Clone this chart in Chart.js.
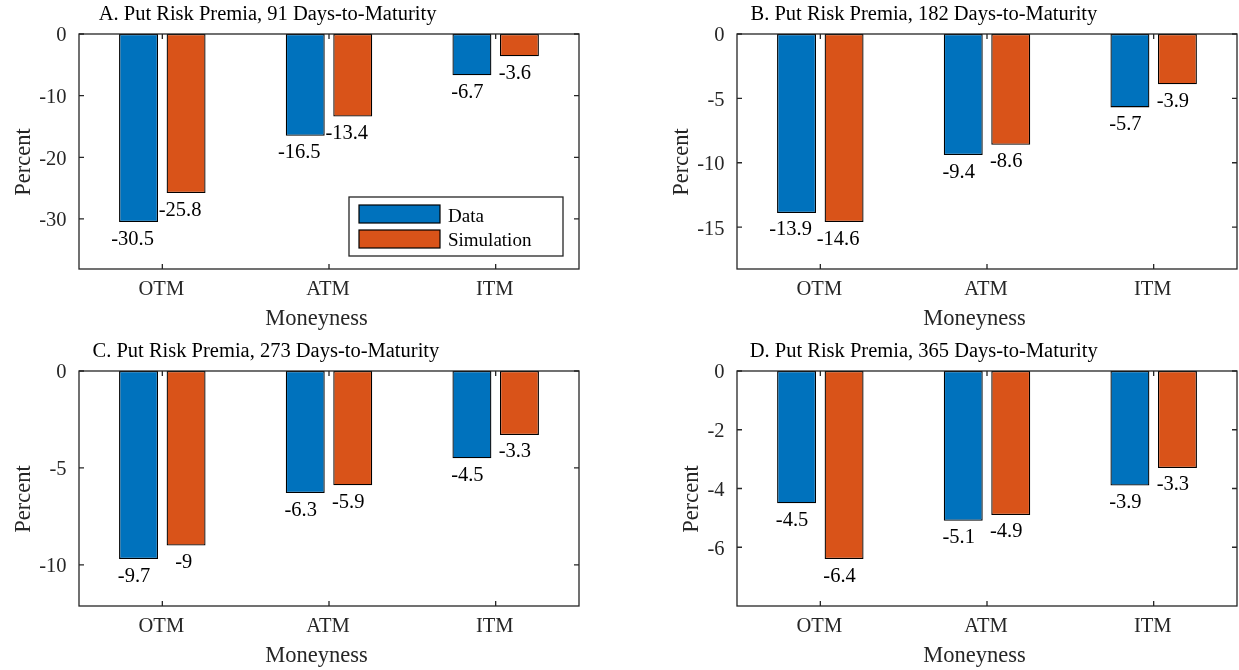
<!DOCTYPE html>
<html>
<head>
<meta charset="utf-8">
<script src="https://cdn.jsdelivr.net/npm/chart.js@4.4.1/dist/chart.umd.min.js"></script>
<style>
  body { margin: 0; background: #fff; }
  #fig { position: relative; width: 1239px; height: 670px; background: #fff; }
  #fig canvas { position: absolute; }
</style>
</head>
<body>
<div id="fig">
  <canvas id="panelA" width="620" height="335" style="left:0;top:0"></canvas>
  <canvas id="panelB" width="619" height="335" style="left:620px;top:0"></canvas>
  <canvas id="panelC" width="620" height="335" style="left:0;top:335px"></canvas>
  <canvas id="panelD" width="619" height="335" style="left:620px;top:335px"></canvas>
</div>
<script>
const categories = ['OTM', 'ATM', 'ITM'];
const seriesNames = ['Data', 'Simulation'];

// put risk premia, percent
const data91 = [-30.5, -16.5, -6.7];
const sim91 = [-25.8, -13.4, -3.6];
const data182 = [-13.9, -9.4, -5.7];
const sim182 = [-14.6, -8.6, -3.9];
const data273 = [-9.7, -6.3, -4.5];
const sim273 = [-9, -5.9, -3.3];
const data365 = [-4.5, -5.1, -3.9];
const sim365 = [-6.4, -4.9, -3.3];

const ticks91 = [0, -10, -20, -30];
const ticks182 = [0, -5, -10, -15];
const ticks273 = [0, -5, -10];
const ticks365 = [0, -2, -4, -6];

const yMins = [-38.125, -18.25, -12.125, -8];

const titles = [
    'A. Put Risk Premia, 91 Days-to-Maturity',
    'B. Put Risk Premia, 182 Days-to-Maturity',
    'C. Put Risk Premia, 273 Days-to-Maturity',
    'D. Put Risk Premia, 365 Days-to-Maturity'
];

const FONT = '"Liberation Serif", "Times New Roman", serif';
const AXIS = '#262626';
const BLUE = '#0072BD';
const ORANGE = '#D95319';

const matlabLook = {
    id: 'matlabLook',
    afterDatasetsDraw(chart, args, opts) {
        const ctx = chart.ctx;
        const ca = chart.chartArea;
        const xs = chart.scales.x, ys = chart.scales.y;
        ctx.save();
        // value labels below bar ends
        ctx.font = '20.5px ' + FONT;
        ctx.fillStyle = '#000';
        ctx.textAlign = 'left';
        ctx.textBaseline = 'alphabetic';
        chart.data.datasets.forEach((ds, i) => {
            chart.getDatasetMeta(i).data.forEach((bar, j) => {
                const txt = String(ds.data[j]);
                const w = ctx.measureText(txt).width;
                ctx.fillText(txt, bar.x - 0.64 * w, bar.y + 22.5);
            });
        });
        // axes box with inward ticks
        ctx.strokeStyle = AXIS;
        ctx.lineWidth = 1.3;
        ctx.strokeRect(ca.left, ca.top, ca.width, ca.height);
        ctx.beginPath();
        xs.ticks.forEach((t, i) => {
            const x = xs.getPixelForTick(i);
            ctx.moveTo(x, ca.bottom); ctx.lineTo(x, ca.bottom - 5);
            ctx.moveTo(x, ca.top); ctx.lineTo(x, ca.top + 5);
        });
        ys.ticks.forEach((t, i) => {
            const y = ys.getPixelForTick(i);
            ctx.moveTo(ca.left, y); ctx.lineTo(ca.left + 5, y);
            ctx.moveTo(ca.right, y); ctx.lineTo(ca.right - 5, y);
        });
        ctx.stroke();
        ctx.restore();
    },
    afterDraw(chart, args, opts) {
        const ctx = chart.ctx;
        const ca = chart.chartArea;
        const ys = chart.scales.y;
        const cx = (ca.left + ca.right) / 2;
        ctx.save();
        ctx.textBaseline = 'alphabetic';
        ctx.textAlign = 'left';

        // title
        ctx.font = '20.5px ' + FONT;
        ctx.fillStyle = '#000';
        let w = ctx.measureText(opts.title).width;
        ctx.fillText(opts.title, cx - 0.682 * w, ca.top - 14);

        // widest y tick label, for placing the y label
        let widest = 0;
        ys.ticks.forEach(t => { widest = Math.max(widest, ctx.measureText(t.label).width); });

        // x label
        ctx.font = '22.5px ' + FONT;
        ctx.fillStyle = AXIS;
        w = ctx.measureText('Moneyness').width;
        ctx.fillText('Moneyness', cx - 0.623 * w, ca.bottom + 56);

        // y label
        ctx.save();
        ctx.translate(ca.left - 12.5 - widest - 9, (ca.top + ca.bottom) / 2 + 10.5);
        ctx.rotate(-Math.PI / 2);
        ctx.textAlign = 'center';
        ctx.fillText('Percent', 0, 0);
        ctx.restore();

        // legend box
        if (opts.legend) {
            const bx = ca.right - 230, by = ca.bottom - 72;
            ctx.fillStyle = '#fff';
            ctx.fillRect(bx, by, 214, 59);
            ctx.strokeStyle = AXIS;
            ctx.lineWidth = 1.3;
            ctx.strokeRect(bx, by, 214, 59);
            ctx.font = '19px ' + FONT;
            chart.data.datasets.forEach((ds, i) => {
                const sy = by + 8 + i * 25;
                ctx.fillStyle = ds.backgroundColor;
                ctx.fillRect(bx + 10, sy, 81, 18);
                ctx.strokeStyle = '#000';
                ctx.lineWidth = 1.2;
                ctx.strokeRect(bx + 10, sy, 81, 18);
                ctx.fillStyle = '#000';
                ctx.fillText(ds.label, bx + 99, by + 24.5 + i * 24.5);
            });
        }
        ctx.restore();
    }
};

function makePanel(id, dataVals, simVals, yTicks, yMin, title, pad, yWidth, xHeight, showLegend) {
    const tickFont = { family: FONT, size: 20.5 };
    return new Chart(document.getElementById(id), {
        type: 'bar',
        data: {
            labels: categories,
            datasets: [
                { label: seriesNames[0], data: dataVals, backgroundColor: BLUE,
                  borderColor: '#000', borderWidth: 1.3, borderSkipped: false },
                { label: seriesNames[1], data: simVals, backgroundColor: ORANGE,
                  borderColor: '#000', borderWidth: 1.3, borderSkipped: false }
            ]
        },
        options: {
            responsive: false,
            animation: false,
            layout: { padding: pad },
            datasets: { bar: { categoryPercentage: 0.57, barPercentage: 0.82 } },
            plugins: {
                legend: { display: false },
                tooltip: { enabled: false },
                matlabLook: { title: title, legend: showLegend }
            },
            scales: {
                x: {
                    grid: { display: false, drawTicks: false },
                    border: { display: false },
                    ticks: { font: tickFont, color: AXIS, padding: 8, maxRotation: 0, labelOffset: -1 },
                    afterFit: s => { s.height = xHeight; }
                },
                y: {
                    min: yMin,
                    max: 0,
                    grid: { display: false, drawTicks: false },
                    border: { display: false },
                    ticks: { font: tickFont, color: AXIS, padding: 12.5, labelOffset: 2 },
                    afterBuildTicks: s => {
                        s.ticks = yTicks.slice().sort((a, b) => a - b).map(v => ({ value: v }));
                    },
                    afterFit: s => { s.width = yWidth; }
                }
            }
        },
        plugins: [matlabLook]
    });
}

makePanel('panelA', data91, sim91, ticks91, yMins[0], titles[0],
    { left: 0, top: 34, right: 41, bottom: 0 }, 79, 66, true);
makePanel('panelB', data182, sim182, ticks182, yMins[1], titles[1],
    { left: 0, top: 34, right: 2, bottom: 0 }, 117, 66, false);
makePanel('panelC', data273, sim273, ticks273, yMins[2], titles[2],
    { left: 0, top: 36, right: 41, bottom: 0 }, 79, 64, false);
makePanel('panelD', data365, sim365, ticks365, yMins[3], titles[3],
    { left: 0, top: 36, right: 2, bottom: 0 }, 117, 64, false);
</script>
</body>
</html>
